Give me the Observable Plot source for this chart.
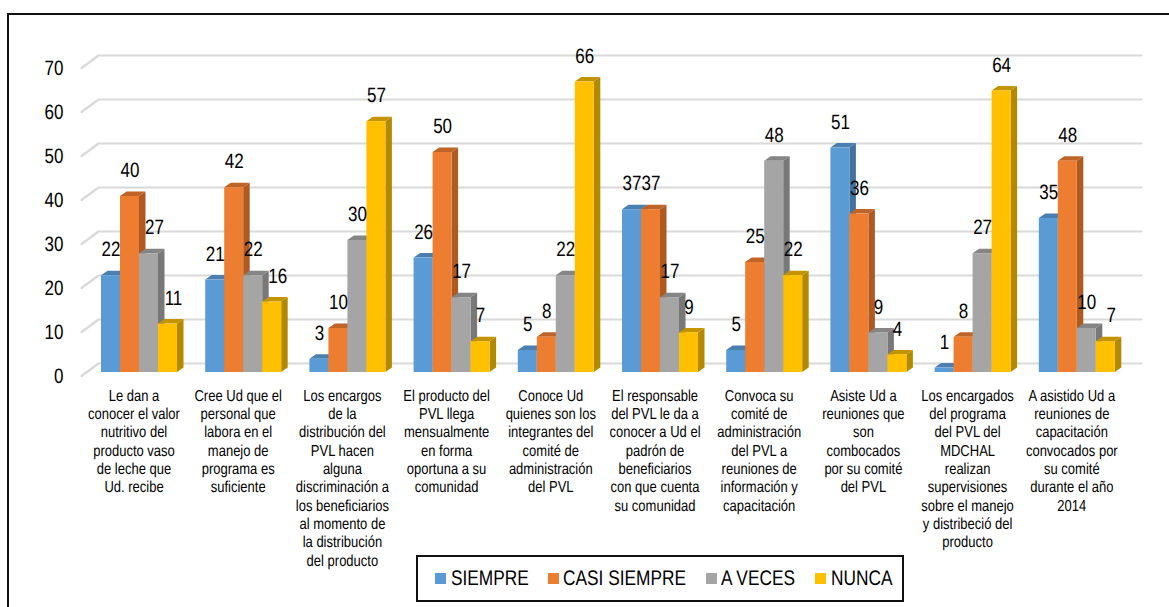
<!DOCTYPE html>
<html><head><meta charset="utf-8">
<script src="https://cdn.jsdelivr.net/npm/d3@7"></script>
<script src="https://cdn.jsdelivr.net/npm/@observablehq/plot@0.6"></script>
<style>
html,body{margin:0;padding:0;background:#fff;overflow:hidden}
#wrap{position:relative;width:1169px;height:607px;font-family:"Liberation Sans",Arial,sans-serif;color:#000;text-rendering:geometricPrecision}
#wrap svg{position:absolute;left:0;top:0;background:transparent;text-rendering:geometricPrecision}
#frame{position:absolute;left:7px;top:13px;width:1162px;height:594px;border-left:2px solid #111;border-top:2px solid #111;box-sizing:border-box}
#legend{position:absolute;left:416px;top:555px;width:488px;height:47px;border:2px solid #111;box-sizing:border-box;background:#fff}
#legend i{position:absolute;top:16px;width:11px;height:11px}
#legend span{position:absolute;top:11px;font-size:17.3px;line-height:20px;white-space:nowrap;transform:scaleY(1.22);transform-origin:left center}
</style></head><body>
<div id="wrap"><div id="frame"></div><div id="chart"></div><div id="legend"></div></div>
<script>
const questions = [
  "Le dan a\nconocer el valor\nnutritivo del\nproducto vaso\nde leche que\nUd. recibe",
  "Cree Ud que el\npersonal que\nlabora en el\nmanejo de\nprograma es\nsuficiente",
  "Los encargos\nde la\ndistribución del\nPVL hacen\nalguna\ndiscriminación a\nlos beneficiarios\nal momento de\nla distribución\ndel producto",
  "El producto del\nPVL llega\nmensualmente\nen forma\noportuna a su\ncomunidad",
  "Conoce Ud\nquienes son los\nintegrantes del\ncomité de\nadministración\ndel PVL",
  "El responsable\ndel PVL le da a\nconocer a Ud el\npadrón de\nbeneficiarios\ncon que cuenta\nsu comunidad",
  "Convoca su\ncomité de\nadministración\ndel PVL a\nreuniones de\ninformación y\ncapacitación",
  "Asiste Ud a\nreuniones que\nson\ncombocados\npor su comité\ndel PVL",
  "Los encargados\ndel programa\ndel PVL del\nMDCHAL\nrealizan\nsupervisiones\nsobre el manejo\ny distribeció del\nproducto",
  "A asistido Ud a\nreuniones de\ncapacitación\nconvocados por\nsu comité\ndurante el año\n2014"
];
const seriesNames = ["SIEMPRE", "CASI SIEMPRE", "A VECES", "NUNCA"];
const siempre     = [22, 21, 3, 26, 5, 37, 5, 51, 1, 35];
const casiSiempre = [40, 42, 10, 50, 8, 37, 25, 36, 8, 48];
const aVeces      = [27, 22, 30, 17, 22, 17, 48, 9, 27, 10];
const nunca       = [11, 16, 57, 7, 66, 9, 22, 4, 64, 7];
const yTicks = [0, 10, 20, 30, 40, 50, 60, 70];
const frontColors = ["#5b9bd5", "#ed7d31", "#a5a5a5", "#ffc000"];
const sideColors  = ["#41719c", "#ae5a21", "#787878", "#b38900"];
const topColors   = ["#4a7fb0", "#bf6428", "#858585", "#c49400"];

const allSeries = [siempre, casiSiempre, aVeces, nunca];
const pitch = 104.2, pxPerUnit = 4.4;
const barW = 19 / pitch, depX = 6.5 / pitch, depY = 4.5 / pxPerUnit;
const left = 63, bottom = 372;

const marks = [];
// gridlines with the short floor-wall return on the left
const grid = yTicks.flatMap(t => [
  {t, x: -20 / pitch, y: t - 3.5 / pxPerUnit},
  {t, x: -3 / pitch, y: t + 9 / pxPerUnit},
  {t, x: 1040 / pitch, y: t + 9 / pxPerUnit}
]);
marks.push(Plot.line(grid, {x: "x", y: "y", z: "t", stroke: "#d9d9d9", strokeWidth: 2.2}));

allSeries.forEach((vals, s) => {
  const bars = vals.map((v, g) => ({id: g, v, x1: g + s * barW, x2: g + (s + 1) * barW}));
  const side = bars.flatMap(b => [
    {id: b.id, x: b.x2, a: 0, b: b.v},
    {id: b.id, x: b.x2 + depX, a: depY, b: b.v + depY}
  ]);
  const top = bars.flatMap(b => [
    {id: b.id, x: b.x1, a: b.v, b: b.v},
    {id: b.id, x: b.x1 + depX, a: b.v, b: b.v + depY},
    {id: b.id, x: b.x2, a: b.v, b: b.v + depY},
    {id: b.id, x: b.x2 + depX, a: b.v + depY, b: b.v + depY}
  ]);
  marks.push(Plot.area(side, {x1: "x", y1: "a", y2: "b", z: "id", fill: sideColors[s]}));
  marks.push(Plot.area(top, {x1: "x", y1: "a", y2: "b", z: "id", fill: topColors[s]}));
  marks.push(Plot.rect(bars, {x1: "x1", x2: "x2", y1: 0, y2: "v", fill: frontColors[s], inset: 0}));
});

// value labels; a few are nudged right of their bar in the reference
const nudged = new Set(["0-2", "0-3", "1-3", "9-3"]);
const labels = allSeries.flatMap((vals, s) => vals.map((v, g) => ({
  v, x: g + (s + 0.5) * barW + (nudged.has(g + "-" + s) ? 5.5 / pitch : 0)
})));
marks.push(Plot.text(labels, {x: "x", y: "v", text: d => String(d.v), dy: -26, fontSize: 17, fill: "#000", lineAnchor: "middle", textAnchor: "middle"}));

marks.push(Plot.axisY({ticks: yTicks, anchor: "left", tickSize: 0, tickPadding: 0, dy: 3.5, fontSize: 17, label: null, tickFormat: d => String(d), fill: "#000"}));
const centers = questions.map((q, g) => g + 2 * barW);
marks.push(Plot.axisX({ticks: centers, tickFormat: (d, i) => questions[centers.indexOf(d)], anchor: "bottom", tickSize: 0, tickPadding: 15, dx: -5.5, fontSize: 13, lineHeight: 1.158, label: null, fill: "#000", textOverflow: null}));

const chart = Plot.plot({
  width: 1169, height: 607,
  marginLeft: left, marginRight: 0, marginTop: 64, marginBottom: 607 - bottom,
  style: {background: "transparent", fontFamily: '"Liberation Sans",Arial,sans-serif', overflow: "visible"},
  x: {type: "linear", domain: [(left - 101) / pitch, (1169 - 101) / pitch], axis: null},
  y: {domain: [0, 70], axis: null},
  marks
});
// the reference is stretched vertically: apply the same stretch to every text
chart.querySelectorAll("text").forEach(t => {
  const tr = t.getAttribute("transform");
  if (tr) t.setAttribute("transform", tr + " scale(1,1.22)");
});
document.getElementById("chart").append(chart);

const legend = document.getElementById("legend");
const swatchX = [17, 130, 288, 397];
const textX = [33, 145, 303, 413];
seriesNames.forEach((n, i) => {
  const sw = document.createElement("i");
  sw.style.left = swatchX[i] + "px"; sw.style.background = frontColors[i];
  const tx = document.createElement("span");
  tx.style.left = textX[i] + "px"; tx.textContent = n;
  legend.append(sw, tx);
});
</script>
</body></html>
